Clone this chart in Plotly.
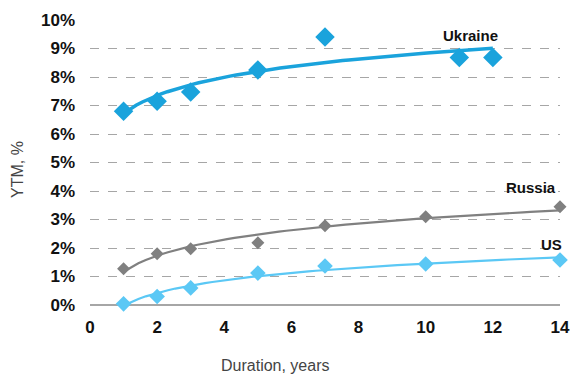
import numpy as np
import plotly.graph_objects as go

# Data
ukraine_x = [1, 2, 3, 5, 7, 11, 12]
ukraine_y = [6.8, 7.15, 7.47, 8.25, 9.4, 8.68, 8.68]
russia_x = [1, 2, 3, 5, 7, 10, 14]
russia_y = [1.27, 1.8, 1.97, 2.18, 2.78, 3.1, 3.45]
us_x = [1, 2, 3, 5, 7, 10, 14]
us_y = [0.04, 0.3, 0.6, 1.12, 1.37, 1.44, 1.58]

y_ticks = list(range(0, 11))
y_tick_labels = [f"{v}%" for v in y_ticks]
x_ticks = list(range(0, 15, 2))

c_ukr = "#1AA3DC"
c_rus = "#808080"
c_us = "#5BC8F5"


def log_trend(xs, ys):
    b, a = np.polyfit(np.log(xs), ys, 1)
    xt = np.linspace(min(xs), max(xs), 60)
    return xt, a + b * np.log(xt)


fig = go.Figure()
series = [
    (ukraine_x, ukraine_y, c_ukr, 3.5, 15, "Ukraine"),
    (russia_x, russia_y, c_rus, 2.2, 10, "Russia"),
    (us_x, us_y, c_us, 2.2, 12, "US"),
]
for xs, ys, col, lw, ms, name in series:
    xt, yt = log_trend(xs, ys)
    fig.add_trace(go.Scatter(x=xt, y=yt, mode="lines", line=dict(color=col, width=lw),
                             hoverinfo="skip", showlegend=False, cliponaxis=False))
    fig.add_trace(go.Scatter(x=xs, y=ys, mode="markers", name=name,
                             marker=dict(symbol="diamond", color=col, size=ms, line=dict(width=0)),
                             showlegend=False, cliponaxis=False))

label_font = dict(family="Liberation Sans", size=15, color="#111111", weight="bold")
fig.add_annotation(x=12, y=9.0, text="Ukraine", showarrow=False, xanchor="right",
                   yanchor="bottom", yshift=3, xshift=7, font=label_font)
fig.add_annotation(x=14, y=3.45, text="Russia", showarrow=False, xanchor="right",
                   yanchor="bottom", yshift=9, xshift=-2, font=label_font)
fig.add_annotation(x=14, y=1.58, text="US", showarrow=False, xanchor="right",
                   yanchor="bottom", yshift=5, xshift=4, font=label_font)

title_font = dict(family="Liberation Sans", size=16, color="#444444")
fig.add_annotation(xref="paper", yref="paper", x=0.394, y=0, yshift=-60, text="Duration, years",
                   showarrow=False, xanchor="center", yanchor="middle", font=title_font)
fig.add_annotation(xref="paper", yref="paper", x=-0.153, y=0.474, text="YTM, %", textangle=-90,
                   showarrow=False, xanchor="center", yanchor="middle", font=title_font)

fig.update_layout(
    width=570, height=374,
    margin=dict(l=90, r=10, t=20, b=69),
    plot_bgcolor="white", paper_bgcolor="white",
    font=dict(family="Liberation Sans", color="#111111"),
    xaxis=dict(range=[0, 14], tickvals=x_ticks, showgrid=False, zeroline=False,
               showline=False, ticks="", ticklabelstandoff=10, automargin=False,
               ticklabeloverflow="allow",
               tickfont=dict(size=17, weight="bold", color="#111111")),
    yaxis=dict(range=[0, 10], tickvals=y_ticks, ticktext=y_tick_labels,
               showgrid=True, gridcolor="#A6A6A6", griddash="dash", gridwidth=1,
               zeroline=True, zerolinecolor="#A6A6A6", zerolinewidth=1.5,
               showline=False, ticks="", ticklabelstandoff=14, automargin=False,
               ticklabeloverflow="allow",
               tickfont=dict(size=17, weight="bold", color="#111111")),
)

fig.write_html(
    "out.html",
    config={"displayModeBar": False},
    post_script="document.body.style.margin='0';document.body.style.overflow='hidden';",
)
